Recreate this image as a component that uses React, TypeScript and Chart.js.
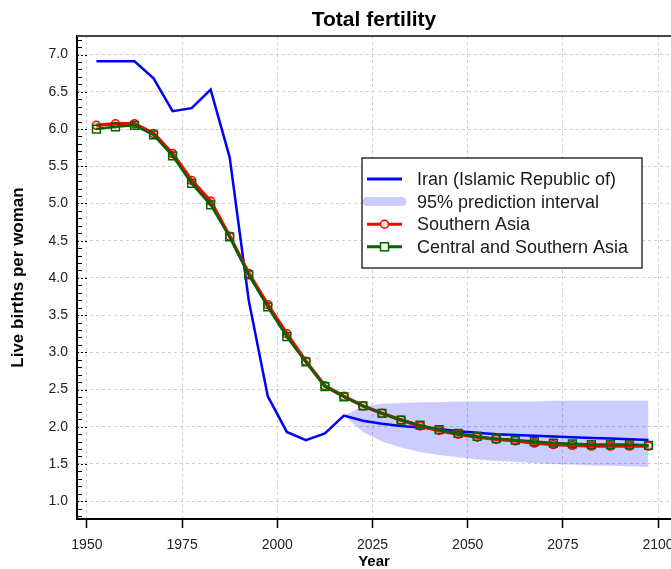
import React, { useEffect, useRef } from 'react';
import { Chart, registerables } from 'chart.js';

Chart.register(...registerables);

const years = [
  1952.5, 1957.5, 1962.5, 1967.5, 1972.5, 1977.5, 1982.5, 1987.5, 1992.5, 1997.5,
  2002.5, 2007.5, 2012.5, 2017.5, 2022.5, 2027.5, 2032.5, 2037.5, 2042.5, 2047.5,
  2052.5, 2057.5, 2062.5, 2067.5, 2072.5, 2077.5, 2082.5, 2087.5, 2092.5, 2097.5,
];

const iran = [
  6.91, 6.91, 6.91, 6.68, 6.24, 6.28, 6.53, 5.62, 3.70, 2.41,
  1.93, 1.82, 1.91, 2.15, 2.08, 2.04, 2.01, 1.99, 1.97, 1.94,
  1.92, 1.90, 1.89, 1.88, 1.87, 1.86, 1.85, 1.84, 1.83, 1.82,
];

const southernAsia = [
  6.05, 6.07, 6.07, 5.94, 5.67, 5.31, 5.03, 4.56, 4.06, 3.64,
  3.25, 2.88, 2.55, 2.41, 2.28, 2.18, 2.09, 2.01, 1.95, 1.90,
  1.86, 1.83, 1.81, 1.78, 1.76, 1.75, 1.74, 1.74, 1.74, 1.74,
];

const centralSouthernAsia = [
  6.00, 6.03, 6.05, 5.92, 5.64, 5.27, 4.98, 4.55, 4.04, 3.61,
  3.21, 2.87, 2.54, 2.40, 2.28, 2.18, 2.09, 2.02, 1.96, 1.91,
  1.87, 1.84, 1.82, 1.80, 1.78, 1.77, 1.76, 1.76, 1.76, 1.75,
];

const bandYears = [
  2017.5, 2022.5, 2027.5, 2032.5, 2037.5, 2042.5, 2047.5, 2052.5, 2057.5,
  2062.5, 2067.5, 2072.5, 2077.5, 2082.5, 2087.5, 2092.5, 2097.5,
];
const bandUpper = [
  2.15, 2.27, 2.31, 2.32, 2.33, 2.33, 2.34, 2.34, 2.34,
  2.34, 2.34, 2.35, 2.35, 2.35, 2.35, 2.35, 2.35,
];
const bandLower = [
  2.15, 1.93, 1.80, 1.72, 1.66, 1.62, 1.59, 1.56, 1.54,
  1.53, 1.51, 1.50, 1.49, 1.48, 1.475, 1.47, 1.46,
];

const xTicks = [1950, 1975, 2000, 2025, 2050, 2075, 2100];
const yTicks = [1.0, 1.5, 2.0, 2.5, 3.0, 3.5, 4.0, 4.5, 5.0, 5.5, 6.0, 6.5, 7.0];
const yMinorTicks = [
  0.8, 0.9, 1.1, 1.2, 1.3, 1.4, 1.6, 1.7, 1.8, 1.9, 2.1, 2.2, 2.3, 2.4, 2.6, 2.7, 2.8, 2.9,
  3.1, 3.2, 3.3, 3.4, 3.6, 3.7, 3.8, 3.9, 4.1, 4.2, 4.3, 4.4, 4.6, 4.7, 4.8, 4.9,
  5.1, 5.2, 5.3, 5.4, 5.6, 5.7, 5.8, 5.9, 6.1, 6.2, 6.3, 6.4, 6.6, 6.7, 6.8, 6.9, 7.1, 7.2,
];

const chartTitle = 'Total fertility';
const xTitle = 'Year';
const yTitle = 'Live births per woman';
const legendLabels = [
  'Iran (Islamic Republic of)',
  '95% prediction interval',
  'Southern Asia',
  'Central and Southern Asia',
];

const FONT = "'Liberation Sans', Arial, Helvetica, sans-serif";

const BLUE = '#0000ff';
const BAND = 'rgba(0,0,255,0.2)';
const RED = '#ff0000';
const GREEN = '#006400';

const framePlugin = {
  id: 'frameAndLegend',
  afterDraw(chart: any) {
    const { ctx, chartArea: ca } = chart;
    const yScale = chart.scales.y;
    ctx.save();
    // top frame line
    ctx.strokeStyle = '#444';
    ctx.lineWidth = 2;
    ctx.beginPath();
    ctx.moveTo(ca.left, ca.top);
    ctx.lineTo(ca.right + 2, ca.top);
    ctx.stroke();

    // minor y ticks (inside)
    ctx.strokeStyle = '#000';
    ctx.lineWidth = 1;
    for (const v of yMinorTicks) {
      const py = Math.round(yScale.getPixelForValue(v)) + 0.5;
      ctx.beginPath();
      ctx.moveTo(ca.left, py);
      ctx.lineTo(ca.left + 5, py);
      ctx.stroke();
    }
    ctx.setLineDash([2, 2]);
    for (const v of yTicks) {
      const py = Math.round(yScale.getPixelForValue(v)) + 0.5;
      ctx.beginPath();
      ctx.moveTo(ca.left, py);
      ctx.lineTo(ca.left + 10, py);
      ctx.stroke();
    }
    ctx.setLineDash([]);

    // legend box
    const x0 = ca.left + 285;
    const y0 = ca.top + 122;
    const w = 280;
    const h = 110;
    ctx.fillStyle = '#ffffff';
    ctx.fillRect(x0, y0, w, h);
    ctx.strokeStyle = '#333';
    ctx.lineWidth = 1.5;
    ctx.strokeRect(x0, y0, w, h);

    const sx1 = x0 + 5;
    const sx2 = x0 + 40;
    const smid = (sx1 + sx2) / 2;
    const tx = x0 + 55;
    const rowY = (i: number) => y0 + 21 + i * 22.6;

    ctx.font = `18px ${FONT}`;
    ctx.textBaseline = 'middle';
    ctx.textAlign = 'left';

    // Iran
    ctx.strokeStyle = BLUE;
    ctx.lineWidth = 3;
    ctx.beginPath();
    ctx.moveTo(sx1, rowY(0));
    ctx.lineTo(sx2, rowY(0));
    ctx.stroke();

    // Band
    ctx.strokeStyle = BAND;
    ctx.lineWidth = 9;
    ctx.lineCap = 'round';
    ctx.beginPath();
    ctx.moveTo(sx1, rowY(1));
    ctx.lineTo(sx2, rowY(1));
    ctx.stroke();
    ctx.lineCap = 'butt';

    // Southern Asia
    ctx.strokeStyle = RED;
    ctx.lineWidth = 3;
    ctx.beginPath();
    ctx.moveTo(sx1, rowY(2));
    ctx.lineTo(sx2, rowY(2));
    ctx.stroke();
    ctx.fillStyle = '#ffe0e0';
    ctx.lineWidth = 1.5;
    ctx.beginPath();
    ctx.arc(smid, rowY(2), 4, 0, Math.PI * 2);
    ctx.fill();
    ctx.stroke();

    // Central and Southern Asia
    ctx.strokeStyle = GREEN;
    ctx.lineWidth = 3;
    ctx.beginPath();
    ctx.moveTo(sx1, rowY(3));
    ctx.lineTo(sx2, rowY(3));
    ctx.stroke();
    ctx.fillStyle = '#ffffff';
    ctx.lineWidth = 1.5;
    ctx.fillRect(smid - 4, rowY(3) - 4, 8, 8);
    ctx.strokeRect(smid - 4, rowY(3) - 4, 8, 8);

    ctx.fillStyle = '#1a1a1a';
    legendLabels.forEach((t, i) => ctx.fillText(t, tx, rowY(i) + 1));
    ctx.restore();
  },
};

export default function App() {
  const ref = useRef<HTMLCanvasElement | null>(null);

  useEffect(() => {
    if (!ref.current) return;
    const pts = (xs: number[], ys: number[]) => xs.map((x, i) => ({ x, y: ys[i] }));

    const chart = new Chart(ref.current, {
      type: 'line',
      data: {
        datasets: [
          {
            label: legendLabels[0],
            data: pts(years, iran),
            borderColor: BLUE,
            borderWidth: 2.5,
            pointRadius: 0,
            tension: 0,
            fill: false,
            order: 2,
          },
          {
            label: 'upper',
            data: pts(bandYears, bandUpper),
            borderColor: 'rgba(0,0,0,0)',
            borderWidth: 1,
            pointRadius: 0,
            backgroundColor: BAND,
            fill: '+1',
            order: 3,
          },
          {
            label: 'lower',
            data: pts(bandYears, bandLower),
            borderColor: 'rgba(0,0,0,0)',
            borderWidth: 1,
            pointRadius: 0,
            fill: false,
            order: 3,
          },
          {
            label: legendLabels[2],
            data: pts(years, southernAsia),
            borderColor: RED,
            borderWidth: 3.5,
            pointStyle: 'circle',
            pointRadius: 4,
            pointBorderWidth: 1.5,
            pointBorderColor: RED,
            pointBackgroundColor: 'rgba(255,0,0,0.15)',
            fill: false,
            order: 1,
          },
          {
            label: legendLabels[3],
            data: pts(years, centralSouthernAsia),
            borderColor: GREEN,
            borderWidth: 2.5,
            pointStyle: 'rect',
            pointRadius: 5.5,
            pointBorderWidth: 1.5,
            pointBorderColor: GREEN,
            pointBackgroundColor: 'rgba(0,0,0,0)',
            fill: false,
            order: 0,
          },
        ],
      },
      options: {
        animation: false,
        responsive: false,
        devicePixelRatio: 1,
        events: [],
        layout: { padding: 0, autoPadding: false },
        plugins: {
          legend: { display: false },
          tooltip: { enabled: false },
          title: {
            display: true,
            text: chartTitle,
            fullSize: false,
            color: '#000',
            font: { family: FONT, size: 21, weight: 'bold', lineHeight: 1.2 },
            padding: { top: 8, bottom: 2.8 },
          },
        },
        scales: {
          x: {
            type: 'linear',
            min: 1947.4,
            max: 2103.4,
            afterBuildTicks: (s: any) => {
              s.ticks = xTicks.map((v) => ({ value: v }));
            },
            afterFit: (s: any) => {
              s.height = 50;
              s.paddingLeft = 0;
              s.paddingRight = 0;
            },
            ticks: {
              autoSkip: false,
              maxRotation: 0,
              padding: 9,
              color: '#222',
              font: { family: FONT, size: 14 },
              callback: (v: any) => String(v),
            },
            grid: {
              color: '#cfcfcf',
              lineWidth: 1,
              drawTicks: true,
              tickLength: 9,
              tickColor: '#000',
              tickWidth: 1.5,
            },
            border: { color: '#000', width: 2, dash: [3, 3] },
            title: {
              display: true,
              text: xTitle,
              color: '#000',
              font: { family: FONT, size: 15, weight: 'bold', lineHeight: 1 },
              padding: 0,
            },
          },
          y: {
            type: 'linear',
            min: 0.76,
            max: 7.25,
            afterBuildTicks: (s: any) => {
              s.ticks = yTicks.map((v) => ({ value: v }));
            },
            afterFit: (s: any) => {
              s.width = 77;
              s.paddingTop = 0;
              s.paddingBottom = 0;
            },
            ticks: {
              padding: 9,
              color: '#222',
              font: { family: FONT, size: 14 },
              callback: (v: any) => Number(v).toFixed(1),
            },
            grid: {
              color: '#cfcfcf',
              lineWidth: 1,
              drawTicks: false,
            },
            border: { color: '#000', width: 2, dash: [3, 3] },
            title: {
              display: true,
              text: yTitle,
              color: '#000',
              font: { family: FONT, size: 17, weight: 'bold', lineHeight: 1.2 },
              padding: { top: 8, bottom: 0 },
            },
          },
        },
      },
      plugins: [framePlugin],
    } as any);

    return () => chart.destroy();
  }, []);

  return (
    <div style={{ position: 'fixed', left: 0, top: 0, width: 671, height: 569, background: '#fff' }}>
      <canvas ref={ref} width={671} height={569} style={{ width: 671, height: 569, display: 'block' }} />
    </div>
  );
}
